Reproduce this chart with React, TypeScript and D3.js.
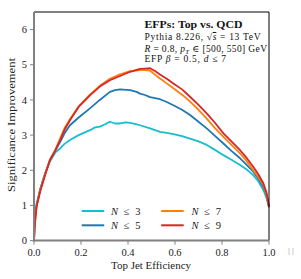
import React from "react";
import * as d3 from "d3";

const W = 301;
const H = 279;
const margin = { left: 34, right: 32, top: 12, bottom: 38.4 };

const xTicks = [0.0, 0.2, 0.4, 0.6, 0.8, 1.0];
const yTicks = [0, 1, 2, 3, 4, 5, 6];

const effN3 = [0, 0.005, 0.011, 0.026, 0.047, 0.068, 0.09, 0.111, 0.13, 0.153, 0.19, 0.238, 0.26, 0.281, 0.3, 0.323, 0.345, 0.366, 0.39, 0.409, 0.43, 0.451, 0.494, 0.515, 0.536, 0.565, 0.593, 0.63, 0.664, 0.7, 0.735, 0.77, 0.806, 0.84, 0.877, 0.905, 0.933, 0.955, 0.976, 0.99, 1.0];
const sigN3 = [0.82, 0.8, 1.05, 1.45, 1.9, 2.25, 2.5, 2.62, 2.75, 2.86, 3.0, 3.14, 3.22, 3.24, 3.3, 3.38, 3.33, 3.33, 3.36, 3.35, 3.32, 3.28, 3.19, 3.14, 3.09, 3.06, 3.03, 2.97, 2.9, 2.82, 2.72, 2.58, 2.43, 2.3, 2.15, 2.02, 1.86, 1.68, 1.44, 1.2, 0.95];

const effN5 = [0, 0.005, 0.011, 0.026, 0.047, 0.068, 0.09, 0.111, 0.13, 0.153, 0.19, 0.238, 0.28, 0.323, 0.345, 0.366, 0.409, 0.437, 0.451, 0.472, 0.494, 0.536, 0.565, 0.593, 0.63, 0.664, 0.7, 0.735, 0.77, 0.806, 0.84, 0.877, 0.905, 0.933, 0.955, 0.976, 0.99, 1.0];
const sigN5 = [0.55, 0.75, 1.0, 1.45, 1.9, 2.3, 2.55, 2.8, 3.05, 3.28, 3.5, 3.76, 4.0, 4.23, 4.28, 4.3, 4.28, 4.23, 4.18, 4.14, 4.08, 4.02, 3.94, 3.85, 3.72, 3.57, 3.38, 3.19, 2.98, 2.76, 2.55, 2.34, 2.15, 1.96, 1.76, 1.53, 1.28, 0.95];

const effN7 = [0, 0.005, 0.011, 0.026, 0.047, 0.068, 0.09, 0.111, 0.13, 0.153, 0.19, 0.238, 0.28, 0.323, 0.366, 0.409, 0.451, 0.472, 0.494, 0.515, 0.536, 0.565, 0.593, 0.63, 0.664, 0.7, 0.735, 0.77, 0.806, 0.84, 0.877, 0.905, 0.933, 0.955, 0.976, 0.99, 1.0];
const sigN7 = [0, 0.55, 0.98, 1.42, 1.88, 2.3, 2.58, 2.9, 3.2, 3.45, 3.82, 4.15, 4.4, 4.6, 4.73, 4.82, 4.85, 4.85, 4.83, 4.72, 4.61, 4.47, 4.33, 4.15, 3.95, 3.72, 3.47, 3.2, 2.95, 2.72, 2.48, 2.26, 2.0, 1.8, 1.58, 1.3, 0.95];

const effN9 = [0, 0.005, 0.011, 0.026, 0.047, 0.068, 0.09, 0.111, 0.13, 0.153, 0.19, 0.238, 0.28, 0.323, 0.366, 0.409, 0.451, 0.472, 0.494, 0.515, 0.536, 0.565, 0.593, 0.63, 0.664, 0.7, 0.735, 0.77, 0.806, 0.84, 0.877, 0.905, 0.933, 0.955, 0.976, 0.99, 1.0];
const sigN9 = [0, 0.55, 0.96, 1.39, 1.86, 2.29, 2.55, 2.85, 3.15, 3.42, 3.8, 4.13, 4.38, 4.56, 4.68, 4.8, 4.88, 4.89, 4.9, 4.82, 4.72, 4.6, 4.47, 4.3, 4.09, 3.86, 3.62, 3.35, 3.05, 2.82, 2.57, 2.35, 2.1, 1.88, 1.63, 1.35, 0.95];

const seriesNames = ["3", "5", "7", "9"];
const seriesColors = ["#17becf", "#1f77b4", "#ff7f0e", "#d62728"];
const seriesEff = [effN3, effN5, effN7, effN9];
const seriesSig = [sigN3, sigN5, sigN7, sigN9];

const serif = "'Liberation Serif', 'DejaVu Serif', serif";

export default function App() {
  const x = d3.scaleLinear().domain([0, 1]).range([margin.left, W - margin.right]);
  const y = d3.scaleLinear().domain([0, 6.5]).range([H - margin.bottom, margin.top]);
  const line = d3
    .line<[number, number]>()
    .x((d) => x(d[0]))
    .y((d) => y(d[1]));

  const x0 = x(0), x1 = x(1), y0 = y(0), y1 = y(6.5);
  const gray = "#808080";

  const legendCols = [
    { lx: 81.7, tx: 111 },
    { lx: 161.2, tx: 191.5 },
  ];
  const legendRows = [211, 225.3];

  return (
    <svg width={W} height={H} style={{ position: "absolute", left: 0, top: 0, background: "#fff" }} fontFamily={serif}>
      <rect x={0} y={0} width={W} height={H} fill="#fff" />
      {seriesNames.map((n, i) => (
        <path
          key={n}
          d={line(seriesEff[i].map((e, j) => [e, seriesSig[i][j]] as [number, number])) || ""}
          fill="none"
          stroke={seriesColors[i]}
          strokeWidth={1.8}
          strokeLinejoin="round"
        />
      ))}
      <line x1={x0} x2={x1} y1={y1} y2={y1} stroke="#000" strokeWidth={1} />
      <line x1={x1} x2={x1} y1={y1} y2={y0} stroke="#000" strokeWidth={1} />
      <line x1={x0} x2={x0} y1={y1} y2={y0 + 1} stroke={gray} strokeWidth={2} />
      <line x1={x0 - 1} x2={x1} y1={y0} y2={y0} stroke={gray} strokeWidth={2} />
      {yTicks.map((t) => (
        <g key={"y" + t}>
          <line x1={x0 - 4} x2={x0} y1={y(t)} y2={y(t)} stroke={gray} strokeWidth={1} />
          <text x={x0 - 7} y={y(t)} dy="0.35em" textAnchor="end" fontSize={10.5} fill="#222">
            {t}
          </text>
        </g>
      ))}
      {xTicks.map((t) => (
        <g key={"x" + t}>
          <line x1={x(t)} x2={x(t)} y1={y0} y2={y0 + 4} stroke={gray} strokeWidth={1} />
          <text x={x(t)} y={y0 + 15} textAnchor="middle" fontSize={10.5} fill="#222">
            {t.toFixed(1)}
          </text>
        </g>
      ))}
      <line x1={289} x2={289} y1={248} y2={255} stroke="#ccc" strokeWidth={1} />
      <line x1={293} x2={293} y1={248} y2={255} stroke="#ccc" strokeWidth={1} />
      <text x={111} y={269} fontSize={11} fill="#222" textLength={80} lengthAdjust="spacingAndGlyphs">
        Top Jet Efficiency
      </text>
      <text
        transform="translate(14.5,192) rotate(-90)"
        fontSize={11}
        fill="#222"
        textLength={134}
        lengthAdjust="spacingAndGlyphs"
      >
        Significance Improvement
      </text>
      <g fill="#111" fontSize={9.5}>
        <text x={144.5} y={28} fontWeight="bold" textLength={98} lengthAdjust="spacingAndGlyphs">EFPs: Top vs. QCD</text>
        <text x={144.5} y={40} textLength={116} lengthAdjust="spacing">
          <tspan>Pythia 8.226, </tspan>
          <tspan>√</tspan>
          <tspan textDecoration="overline" fontStyle="italic">s</tspan>
          <tspan> = 13 TeV</tspan>
        </text>
        <text x={144.5} y={51.7} textLength={122.5} lengthAdjust="spacing">
          <tspan fontStyle="italic">R</tspan>
          <tspan> = 0.8, </tspan>
          <tspan fontStyle="italic">p</tspan>
          <tspan fontStyle="italic" fontSize={7} dy={2}>T</tspan>
          <tspan dy={-2}> ∈ [500, 550] GeV</tspan>
        </text>
        <text x={144.5} y={62.3} textLength={81.5} lengthAdjust="spacing">
          <tspan>EFP </tspan>
          <tspan fontStyle="italic">β</tspan>
          <tspan> = 0.5, </tspan>
          <tspan fontStyle="italic">d</tspan>
          <tspan> ≤ 7</tspan>
        </text>
      </g>
      {seriesNames.map((n, i) => {
        const col = legendCols[Math.floor(i / 2)];
        const ry = legendRows[i % 2];
        return (
          <g key={"lg" + n}>
            <line x1={col.lx} x2={col.lx + 22.5} y1={ry} y2={ry} stroke={seriesColors[i]} strokeWidth={2} />
            <text x={col.tx} y={ry} dy="0.35em" fontSize={10.5} fill="#222" textLength={29.5} lengthAdjust="spacing">
              <tspan fontStyle="italic">N</tspan>
              <tspan> ≤ {n}</tspan>
            </text>
          </g>
        );
      })}
    </svg>
  );
}
